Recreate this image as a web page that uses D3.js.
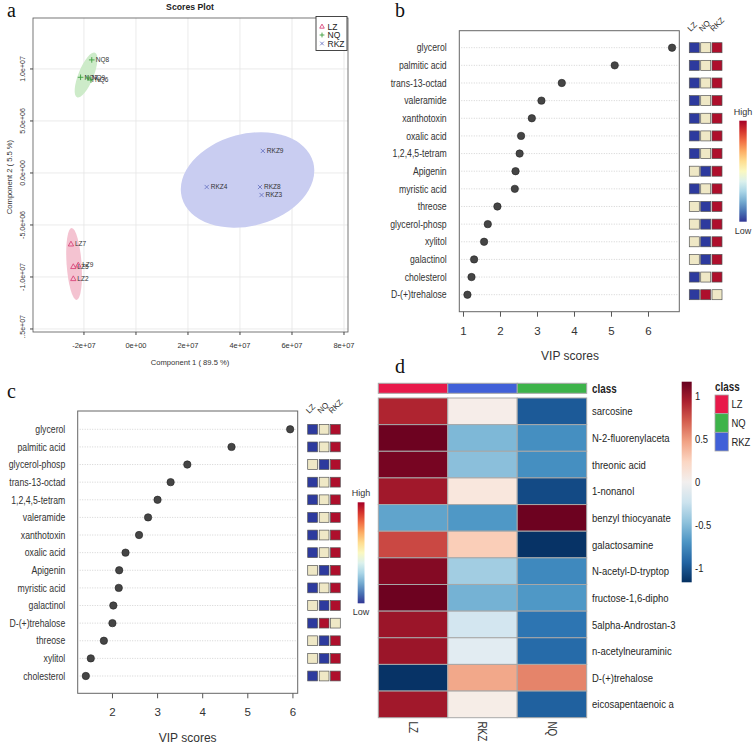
<!DOCTYPE html>
<html><head><meta charset="utf-8">
<script src="https://cdn.jsdelivr.net/npm/d3@7"></script>
<style>body{margin:0;background:#fff} svg{display:block}</style>
</head><body>
<svg id="fig" width="753" height="748"></svg>
<script>
// ---------------- Panel a: PLS-DA scores ----------------
const lzNames = ["LZ7","LZ5","LZ9","LZ2"];
const lzX = [-2.5e7,-2.41e7,-2.22e7,-2.41e7];
const lzY = [-6.83e6,-9.0e6,-8.85e6,-1.016e7];
const nqNames = ["NQ8","NQ7","NQ9","NQ6"];
const nqX = [-1.7e7,-2.13e7,-1.85e7,-1.73e7];
const nqY = [1.087e7,9.2e6,9.13e6,8.94e6];
const rkzNames = ["RKZ9","RKZ4","RKZ8","RKZ3"];
const rkzX = [4.88e7,2.72e7,4.77e7,4.83e7];
const rkzY = [2.12e6,-1.35e6,-1.35e6,-2.12e6];
// confidence ellipses (LZ, NQ, RKZ): centre, semi-axes in data units, tilt in degrees
const ellipseCX = [-2.38e7,-1.92e7,4.29e7];
const ellipseCY = [-8.75e6,9.42e6,-6.7e5];
const ellipseRX = [2.88e6,2.9e6,2.615e7];
const ellipseRY = [3.46e6,2.31e6,4.42e6];
const ellipseRot = [-4,22,-15];
const pcaXTicks = [-2e7,0,2e7,4e7,6e7,8e7];
const pcaXTickLabels = ["-2e+07","0e+00","2e+07","4e+07","6e+07","8e+07"];
const pcaYTicks = [-1.5e7,-1e7,-5e6,0,5e6,1e7];
const pcaYTickLabels = ["-1.5e+07","-1.0e+07","-5.0e+06","0.0e+00","5.0e+06","1.0e+07"];

// ---------------- Panel b: VIP scores ----------------
const vipBNames = ["glycerol","palmitic acid","trans-13-octad","valeramide","xanthotoxin","oxalic acid","1,2,4,5-tetram","Apigenin","myristic acid","threose","glycerol-phosp","xylitol","galactinol","cholesterol","D-(+)trehalose"];
const vipBScores = [6.65,5.1,3.67,3.12,2.86,2.57,2.53,2.42,2.4,1.93,1.67,1.57,1.3,1.23,1.12];
// relative level: 0 = low, 1 = middle, 2 = high
const vipBLZ  = [0,0,0,0,0,0,0,1,0,1,1,1,1,0,0];
const vipBNQ  = [1,1,1,1,1,1,1,0,1,0,0,0,0,1,2];
const vipBRKZ = [2,2,2,2,2,2,2,2,2,2,2,2,2,2,1];
const vipBTicks = [1,2,3,4,5,6];

// ---------------- Panel c: VIP scores ----------------
const vipCNames = ["glycerol","palmitic acid","glycerol-phosp","trans-13-octad","1,2,4,5-tetram","valeramide","xanthotoxin","oxalic acid","Apigenin","myristic acid","galactinol","D-(+)trehalose","threose","xylitol","cholesterol"];
const vipCScores = [5.95,4.65,3.67,3.3,3.01,2.8,2.6,2.3,2.16,2.15,2.03,2.01,1.82,1.53,1.42];
const vipCLZ  = [0,0,1,0,0,0,0,0,1,0,1,0,1,1,0];
const vipCNQ  = [1,1,0,1,1,1,1,1,0,1,0,2,0,0,1];
const vipCRKZ = [2,2,2,2,2,2,2,2,2,2,2,1,2,2,2];
const vipCTicks = [2,3,4,5,6];
const vipGroups = ["LZ","NQ","RKZ"];

// ---------------- Panel d: heatmap ----------------
const hmRows = ["sarcosine","N-2-fluorenylaceta","threonic acid","1-nonanol","benzyl thiocyanate","galactosamine","N-acetyl-D-tryptop","fructose-1,6-dipho","5alpha-Androstan-3","n-acetylneuraminic","D-(+)trehalose","eicosapentaenoic a"];
const hmCols = ["LZ","RKZ","NQ"];
const hmLZ  = [0.92,1.15,1.12,0.98,-0.62,0.78,1.08,1.15,1.0,1.0,-1.15,0.98];
const hmRKZ = [0.05,-0.52,-0.48,0.12,-0.68,0.28,-0.4,-0.55,-0.2,-0.12,0.45,0.06];
const hmNQ  = [-0.98,-0.72,-0.72,-1.05,1.15,-1.15,-0.75,-0.68,-0.85,-0.9,0.58,-0.95];
const hmLegendTicks = [1,0.5,0,-0.5,-1];
const classNames = ["LZ","NQ","RKZ"];

// ============================================================
const svg = d3.select("#fig");
svg.append("rect").attr("width",753).attr("height",748).attr("fill","#fff");
const SANS = "'Liberation Sans', Arial, sans-serif";
const SERIF = "'Liberation Serif', 'Times New Roman', serif";
const NARROW_K = 0.82; // horizontal compression for the condensed labels

// panel letters
[["a",7,17],["b",395,17],["c",7,398],["d",395,373]].forEach(([t,x,y])=>{
  svg.append("text").attr("x",x).attr("y",y).text(t)
    .attr("font-family",SERIF).attr("font-size",20).attr("fill","#111");
});

// ---------------- Panel a ----------------
(function(){
  const L=33,R=348,T=18,B=332;
  const x = d3.scaleLinear().domain([-3.96e7,8.154e7]).range([L,R]);
  const y = d3.scaleLinear().domain([-1.529e7,1.49e7]).range([B,T]);
  const g = svg.append("g");
  g.selectAll(".gx").data(pcaXTicks).join("line")
    .attr("x1",d=>x(d)).attr("x2",d=>x(d)).attr("y1",T).attr("y2",B)
    .attr("stroke","#e4e4e4").attr("stroke-width",0.8);
  g.selectAll(".gy").data(pcaYTicks).join("line")
    .attr("y1",d=>y(d)).attr("y2",d=>y(d)).attr("x1",L).attr("x2",R)
    .attr("stroke","#e4e4e4").attr("stroke-width",0.8);
  const efill = ["#f4c3d1","#cdebc9","#c9cdf1"];
  ellipseCX.forEach((cx,i)=>{
    const px=x(cx), py=y(ellipseCY[i]);
    const rx=Math.abs(x(cx+ellipseRX[i])-px), ry=Math.abs(y(ellipseCY[i]+ellipseRY[i])-py);
    g.append("ellipse").attr("cx",0).attr("cy",0).attr("rx",rx).attr("ry",ry)
      .attr("transform",`translate(${px},${py}) rotate(${ellipseRot[i]})`)
      .attr("fill",efill[i]);
  });
  g.append("rect").attr("x",L).attr("y",T).attr("width",R-L).attr("height",B-T)
    .attr("fill","none").attr("stroke","#555").attr("stroke-width",0.8);
  g.selectAll(".tx").data(pcaXTicks).join("line")
    .attr("x1",d=>x(d)).attr("x2",d=>x(d)).attr("y1",B).attr("y2",B+3).attr("stroke","#444");
  g.selectAll(".ty").data(pcaYTicks).join("line")
    .attr("y1",d=>y(d)).attr("y2",d=>y(d)).attr("x1",L).attr("x2",L-3).attr("stroke","#444");
  g.selectAll(".txl").data(pcaXTicks).join("text")
    .attr("x",d=>x(d)).attr("y",347.5).attr("text-anchor","middle")
    .attr("font-family",SANS).attr("font-size",7.5).attr("fill","#333")
    .text((d,i)=>pcaXTickLabels[i]);
  svg.append("clipPath").attr("id","clipA").append("rect").attr("x",0).attr("y",0).attr("width",40).attr("height",338);
  g.append("g").attr("clip-path","url(#clipA)").selectAll("text").data(pcaYTicks).join("text")
    .attr("transform",d=>`translate(25,${y(d)}) rotate(-90)`).attr("text-anchor","middle")
    .attr("font-family",SANS).attr("font-size",7).attr("fill","#333")
    .text((d,i)=>pcaYTickLabels[i]);
  g.append("text").attr("x",190).attr("y",365).attr("text-anchor","middle")
    .attr("font-family",SANS).attr("font-size",7.6).attr("fill","#333").text("Component 1 ( 89.5 %)");
  g.append("text").attr("transform","translate(12,177) rotate(-90)").attr("text-anchor","middle")
    .attr("font-family",SANS).attr("font-size",7.6).attr("fill","#333").text("Component 2 ( 5.5 %)");
  g.append("text").attr("x",190).attr("y",9.5).attr("text-anchor","middle")
    .attr("font-family",SANS).attr("font-size",8.7).attr("font-weight","bold").attr("fill","#222").text("Scores Plot");

  const cols = {LZ:"#d8467a", NQ:"#3f9e3f", RKZ:"#6d78c4"};
  function sym(sel, type, px, py, s){
    if(type==="LZ"){
      sel.append("path").attr("d",`M${px},${py-s}L${px+s*0.95},${py+s*0.7}L${px-s*0.95},${py+s*0.7}Z`)
        .attr("fill","none").attr("stroke",cols.LZ).attr("stroke-width",0.9);
    } else if(type==="NQ"){
      sel.append("path").attr("d",`M${px-s},${py}H${px+s}M${px},${py-s}V${py+s}`)
        .attr("stroke",cols.NQ).attr("stroke-width",0.9);
    } else {
      const k=s*0.75;
      sel.append("path").attr("d",`M${px-k},${py-k}L${px+k},${py+k}M${px-k},${py+k}L${px+k},${py-k}`)
        .attr("stroke",cols.RKZ).attr("stroke-width",0.9);
    }
  }
  const sets = [["LZ",lzNames,lzX,lzY],["NQ",nqNames,nqX,nqY],["RKZ",rkzNames,rkzX,rkzY]];
  sets.forEach(([type,names,xs,ys])=>{
    names.forEach((n,i)=>{
      const px=x(xs[i]), py=y(ys[i]);
      sym(g,type,px,py,2.8);
      g.append("text").attr("x",px+4).attr("y",py+2.3).attr("font-family",SANS)
        .attr("font-size",6.5).attr("fill","#333").text(n);
    });
  });
  g.append("rect").attr("x",316).attr("y",16.5).attr("width",31).attr("height",34)
    .attr("fill","#fff").attr("stroke","#333").attr("stroke-width",0.9);
  [["LZ",26.5],["NQ",35],["RKZ",43.5]].forEach(([t,yy])=>{
    sym(g,t,322,yy,2.4);
    g.append("text").attr("x",327.5).attr("y",yy+3).attr("font-family",SANS)
      .attr("font-size",8.5).attr("fill","#222").text(t);
  });
})();

// ---------------- VIP panels (b, c) ----------------
const levelColor = ["#2d3a9e","#efe8c6","#ae0f2c"];
function defGrad(id){
  const lg = svg.append("defs").append("linearGradient").attr("id",id)
    .attr("x1",0).attr("y1",0).attr("x2",0).attr("y2",1);
  d3.range(0,1.0001,0.1).forEach(t=>{
    lg.append("stop").attr("offset",t).attr("stop-color",d3.interpolateRdYlBu(t));
  });
}
defGrad("rdylbu");
function vipPanel(cfg, names, scores, lz, nq, rkz, ticks){
  const g = svg.append("g");
  const x = d3.scaleLinear().domain(cfg.domain).range([cfg.L,cfg.R]);
  const y = d3.scalePoint().domain(names).range([cfg.r0,cfg.r1]);
  g.selectAll(".rl").data(names).join("line")
    .attr("x1",cfg.L+2).attr("x2",cfg.R-2).attr("y1",d=>y(d)).attr("y2",d=>y(d))
    .attr("stroke","#c8c8c8").attr("stroke-width",0.8).attr("stroke-dasharray","1,1.5");
  g.append("rect").attr("x",cfg.L).attr("y",cfg.T).attr("width",cfg.R-cfg.L).attr("height",cfg.B-cfg.T)
    .attr("fill","none").attr("stroke","#666").attr("stroke-width",1);
  const ax = d3.axisBottom(x).tickValues(ticks).tickSize(5).tickPadding(10).tickFormat(d3.format("d"));
  const axg = g.append("g").attr("transform",`translate(0,${cfg.B})`).call(ax);
  axg.select(".domain").remove();
  axg.selectAll("line").attr("stroke","#555");
  axg.selectAll("text").attr("font-family",SANS).attr("font-size",11.5).attr("fill","#333");
  g.append("text").attr("x",cfg.titleX).attr("y",cfg.titleY).attr("text-anchor","middle")
    .attr("font-family",SANS).attr("font-size",12).attr("fill","#333").text("VIP scores");
  g.selectAll(".lab").data(names).join("text")
    .attr("transform",d=>`translate(${cfg.labX},${y(d)}) scale(${NARROW_K},1)`)
    .attr("dy","0.35em").attr("text-anchor","end")
    .attr("font-family",SANS).attr("font-size",10.6).attr("fill","#333").text(d=>d);
  g.selectAll(".dot").data(names).join("circle")
    .attr("cx",(d,i)=>x(scores[i])).attr("cy",d=>y(d)).attr("r",3.7)
    .attr("fill","#454545").attr("stroke","#222").attr("stroke-width",0.6);
  const lv=[lz,nq,rkz];
  vipGroups.forEach((gname,j)=>{
    g.selectAll(".sq"+j).data(names).join("rect")
      .attr("x",cfg.sqX[j]).attr("y",d=>y(d)-cfg.sq/2).attr("width",cfg.sq).attr("height",cfg.sq)
      .attr("fill",(d,i)=>levelColor[lv[j][i]]).attr("stroke","#555").attr("stroke-width",0.7);
    g.append("text").attr("transform",`translate(${cfg.sqX[j]+1.5},${cfg.headY}) rotate(-45)`)
      .attr("font-family",SANS).attr("font-size",8).attr("fill","#333").text(gname);
  });
  g.append("rect").attr("x",cfg.cbX).attr("y",cfg.cbT).attr("width",cfg.cbW).attr("height",cfg.cbB-cfg.cbT)
    .attr("fill","url(#rdylbu)");
  g.append("text").attr("x",cfg.cbX+cfg.cbW/2).attr("y",cfg.cbT-6).attr("text-anchor","middle")
    .attr("font-family",SANS).attr("font-size",9).attr("fill","#333").text("High");
  g.append("text").attr("x",cfg.cbX+cfg.cbW/2).attr("y",cfg.cbB+12).attr("text-anchor","middle")
    .attr("font-family",SANS).attr("font-size",9).attr("fill","#333").text("Low");
}
vipPanel({domain:[0.9,6.846],L:459.3,R:679.3,T:30.7,B:311.7,r0:47.7,r1:294.7,labX:446.7,
  titleX:570,titleY:360,sqX:[689.3,700.7,712],sq:10,headY:32,cbX:739.3,cbW:7.4,cbT:120.7,cbB:221.7},
  vipBNames,vipBScores,vipBLZ,vipBNQ,vipBRKZ,vipBTicks);
vipPanel({domain:[1.24,6.117],L:77.7,R:297.7,T:411,B:693.3,r0:429.3,r1:676,labX:65.3,
  titleX:187.7,titleY:742,sqX:[307.7,319.2,330.5],sq:9.8,headY:414,cbX:357.7,cbW:6.8,cbT:502.3,cbB:603.3},
  vipCNames,vipCScores,vipCLZ,vipCNQ,vipCRKZ,vipCTicks);

// ---------------- Panel d: heatmap ----------------
(function(){
  const g = svg.append("g");
  const vmax = 1.17, vmin = -1.165;
  const color = d3.scaleSequential(d3.interpolateRdBu).domain([vmax,vmin]);
  const x = d3.scaleBand().domain(hmCols).range([378.3,586.7]);
  const y = d3.scaleBand().domain(hmRows).range([398,717.7]);
  const classColor = d3.scaleOrdinal().domain(classNames).range(["#e8194a","#3db34a","#4060d8"]);
  const vals = {LZ:hmLZ, RKZ:hmRKZ, NQ:hmNQ};
  g.selectAll(".cb").data(hmCols).join("rect")
    .attr("x",d=>x(d)).attr("y",383.3).attr("width",x.bandwidth()).attr("height",10)
    .attr("fill",d=>classColor(d)).attr("stroke","#a8a8a8").attr("stroke-width",1);
  g.append("text").attr("transform",`translate(592,389) scale(${NARROW_K},1)`).attr("dy","0.35em")
    .attr("font-family",SANS).attr("font-size",12).attr("font-weight","bold").attr("fill","#222").text("class");
  hmCols.forEach(c=>{
    g.selectAll(".c"+c).data(hmRows).join("rect")
      .attr("x",x(c)).attr("y",d=>y(d)).attr("width",x.bandwidth()).attr("height",y.bandwidth())
      .attr("fill",(d,i)=>color(vals[c][i])).attr("stroke","#a8a8a8").attr("stroke-width",1);
  });
  g.selectAll(".rl").data(hmRows).join("text")
    .attr("transform",d=>`translate(592,${y(d)+y.bandwidth()/2}) scale(${NARROW_K},1)`).attr("dy","0.35em")
    .attr("font-family",SANS).attr("font-size",11.6).attr("fill","#1e261e").text(d=>d);
  g.selectAll(".cl").data(hmCols).join("text")
    .attr("transform",d=>`translate(${x(d)+x.bandwidth()/2},721.5) rotate(90) scale(${NARROW_K},1)`).attr("dy","0.35em")
    .attr("font-family",SANS).attr("font-size",12).attr("fill","#333").text(d=>d);
  const ly = d3.scaleLinear().domain([vmin,vmax]).range([582.3,381.7]);
  const lg = svg.append("defs").append("linearGradient").attr("id","rdbu")
    .attr("x1",0).attr("y1",0).attr("x2",0).attr("y2",1);
  d3.range(0,1.0001,0.1).forEach(t=>{
    lg.append("stop").attr("offset",t).attr("stop-color",color(vmax - t*(vmax-vmin)));
  });
  g.append("rect").attr("x",681.7).attr("y",ly(vmax)).attr("width",10).attr("height",ly(vmin)-ly(vmax))
    .attr("fill","url(#rdbu)");
  g.selectAll(".lt").data(hmLegendTicks).join("text")
    .attr("transform",d=>`translate(695,${ly(d)}) scale(${NARROW_K},1)`).attr("dy","0.35em")
    .attr("font-family",SANS).attr("font-size",11.5).attr("fill","#222").text(d=>d);
  g.append("text").attr("transform",`translate(715,386.7) scale(${NARROW_K},1)`).attr("dy","0.35em")
    .attr("font-family",SANS).attr("font-size",12).attr("font-weight","bold").attr("fill","#222").text("class");
  const cy = d3.scaleBand().domain(classNames).range([395,451]);
  g.selectAll(".clg").data(classNames).join("rect")
    .attr("x",715).attr("y",d=>cy(d)).attr("width",13.3).attr("height",cy.bandwidth())
    .attr("fill",d=>classColor(d)).attr("stroke","#a8a8a8").attr("stroke-width",0.8);
  g.selectAll(".clt").data(classNames).join("text")
    .attr("transform",d=>`translate(731.5,${cy(d)+cy.bandwidth()/2}) scale(${NARROW_K},1)`).attr("dy","0.35em")
    .attr("font-family",SANS).attr("font-size",11.5).attr("fill","#222").text(d=>d);
})();
</script>
</body></html>
